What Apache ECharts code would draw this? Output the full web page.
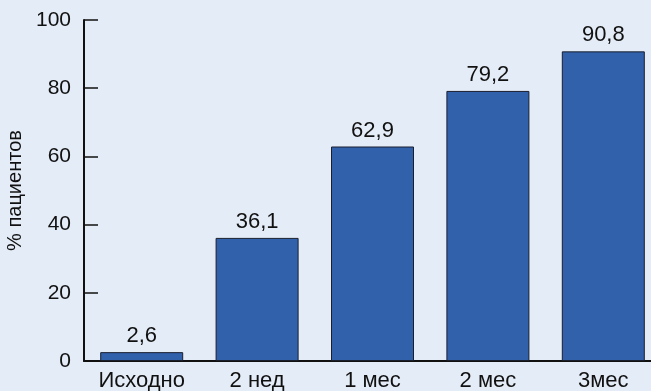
<!DOCTYPE html>
<html>
<head>
<meta charset="utf-8">
<script src="https://cdn.jsdelivr.net/npm/echarts@6/dist/echarts.min.js"></script>
<style>
  html, body { margin: 0; padding: 0; background: #e4ecf7; }
  #chart { width: 651px; height: 391px; }
</style>
</head>
<body>
<div id="chart"></div>
<script>
// периоды наблюдения
const categories = ['Исходно', '2 нед', '1 мес', '2 мес', '3мес']
// % пациентов
const values = [2.6, 36.1, 62.9, 79.2, 90.8]
const yTicks = [0, 20, 40, 60, 80, 100]

const chart = echarts.init(document.getElementById('chart'))
const fontFamily = '"Liberation Sans", Arial, sans-serif'

chart.setOption({
  backgroundColor: '#e4ecf7',
  animation: false,
  grid: { left: 84, top: 20, right: -10, bottom: 30, outerBoundsMode: 'none', containLabel: false },
  xAxis: {
    type: 'category',
    data: categories,
    axisLine: { lineStyle: { color: '#111', width: 2 } },
    axisTick: { inside: true, length: 7, lineStyle: { color: '#111', width: 1 } },
    axisLabel: { color: '#111', fontSize: 22, fontFamily: fontFamily, margin: 9 }
  },
  yAxis: {
    type: 'value',
    min: yTicks[0],
    max: yTicks[yTicks.length - 1],
    interval: 20,
    name: '% пациентов',
    nameLocation: 'middle',
    nameGap: 58,
    nameTextStyle: { color: '#111', fontSize: 20, fontFamily: fontFamily },
    splitLine: { show: false },
    axisLine: { show: true, lineStyle: { color: '#111', width: 2 } },
    axisTick: { show: true, inside: true, length: 14, lineStyle: { color: '#111', width: 1.5 } },
    axisLabel: { color: '#111', fontSize: 21, fontFamily: fontFamily, margin: 13 }
  },
  series: [{
    type: 'bar',
    data: values,
    barWidth: 83,
    itemStyle: { color: '#3161ab', borderColor: '#1a1f2e', borderWidth: 1 },
    label: {
      show: true,
      position: 'top',
      distance: 5,
      color: '#111',
      fontSize: 22,
      fontFamily: fontFamily,
      formatter: function (p) {
        return String(p.value).replace('.', ',')
      }
    }
  }]
})
</script>
</body>
</html>
